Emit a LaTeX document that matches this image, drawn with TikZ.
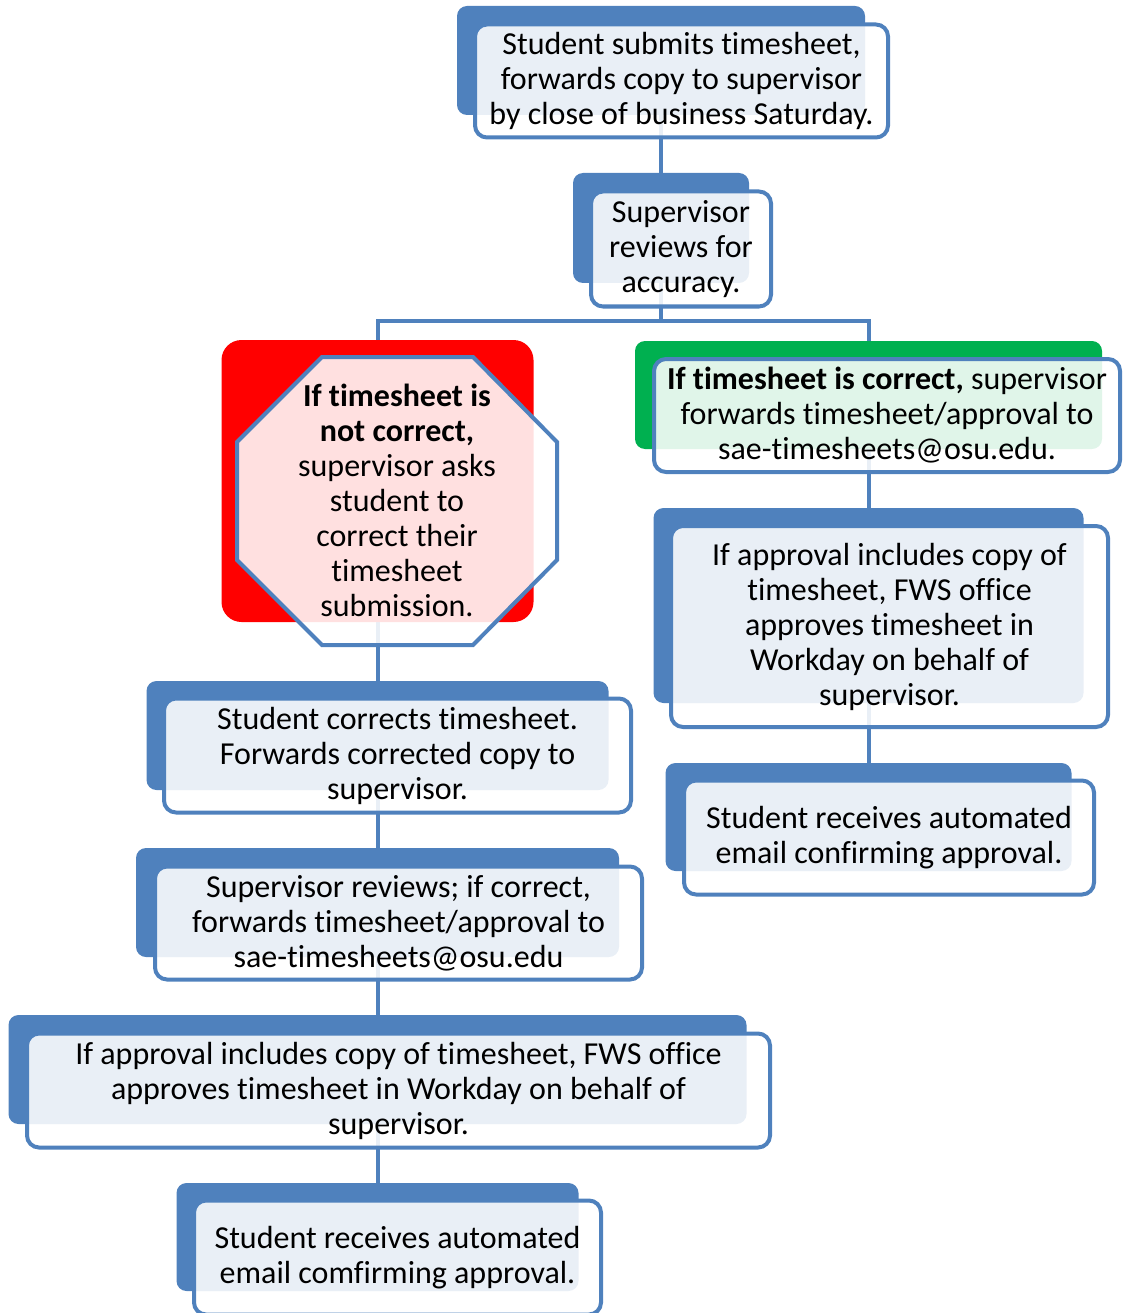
\documentclass[tikz,border=0pt]{standalone}
\usepackage{fontspec}
\setmainfont{Carlito}[Ligatures=CommonOff]
\usetikzlibrary{calc}
\definecolor{ablue}{HTML}{4F81BD}
\definecolor{agreen}{HTML}{00B050}
\definecolor{ared}{HTML}{FF0000}
\pgfdeclarelayer{conn}
\pgfdeclarelayer{back}
\pgfsetlayers{conn,back,main}
\begin{document}
\begin{tikzpicture}[x=1pt,y=-1pt,
  frontbox/.style={draw=ablue, line width=4pt, fill=white, fill opacity=0.88, text opacity=1,
    rounded corners=12pt, inner sep=0pt, align=center, font=\fontsize{32}{35}\selectfont},
  backbox/.style={fill=ablue, rounded corners=10pt, inner sep=0pt},
  link/.style={draw=ablue, line width=4pt}]
\useasboundingbox (0,0) rectangle (1122,1313);

% back shapes
\begin{pgfonlayer}{back}
\node[backbox, minimum width=408pt, minimum height=109pt] (b1back) at (661,60.5) {};
\node[backbox, minimum width=176pt, minimum height=110pt] (b2back) at (661,228) {};
\node[fill=ared, rounded corners=20pt, inner sep=0pt, minimum width=312pt, minimum height=282pt] (redback) at (377.5,481) {};
\node[fill=agreen, rounded corners=10pt, inner sep=0pt, minimum width=467pt, minimum height=108pt] (gback) at (868.5,395) {};
\node[backbox, minimum width=430pt, minimum height=195pt] (r1back) at (868.5,605.5) {};
\node[backbox, minimum width=406pt, minimum height=108pt] (r2back) at (868.5,817) {};
\node[backbox, minimum width=462pt, minimum height=109pt] (l1back) at (377.5,735.5) {};
\node[backbox, minimum width=483pt, minimum height=109pt] (l2back) at (377.5,902.5) {};
\node[backbox, minimum width=738pt, minimum height=109pt] (l3back) at (377.5,1069.5) {};
\node[backbox, minimum width=402pt, minimum height=108pt] (l4back) at (377.5,1237) {};
\end{pgfonlayer}

% front boxes
\node[frontbox, minimum width=413pt, minimum height=113pt] (b1) at (681.5,81)
  {Student submits timesheet,\\forwards copy to supervisor\\by close of business Saturday.};
\node[frontbox, minimum width=180pt, minimum height=115pt] (b2) at (681,249)
  {Supervisor\\reviews for\\accuracy.};
\filldraw[draw=ablue, line width=4pt, fill=white, fill opacity=0.88]
  (237,442) -- (322,357) -- (473,357) -- (557,442) -- (557,560) -- (473,645) -- (322,645) -- (237,560) -- cycle;
\node[align=center, inner sep=0pt, minimum width=316pt, minimum height=284pt, font=\fontsize{32}{35}\selectfont] (oct) at (397,500)
  {\textbf{If timesheet is}\\\textbf{not correct,}\\supervisor asks\\student to\\correct their\\timesheet\\submission.};
\node[frontbox, minimum width=466pt, minimum height=113pt] (g) at (887,415.5)
  {\textbf{If timesheet is correct,} supervisor\\forwards timesheet/approval to\\sae-timesheets@osu.edu.};
\node[frontbox, minimum width=437pt, minimum height=201pt] (r1) at (889.5,626.5)
  {If approval includes copy of\\timesheet, FWS office\\approves timesheet in\\Workday on behalf of\\supervisor.};
\node[frontbox, minimum width=410pt, minimum height=114pt] (r2) at (889,837.5)
  {Student receives automated\\email confirming approval.};
\node[frontbox, minimum width=467pt, minimum height=114pt] (l1) at (397.5,755.5)
  {Student corrects timesheet.\\Forwards corrected copy to\\supervisor.};
\node[frontbox, minimum width=487pt, minimum height=113pt] (l2) at (398.5,923)
  {Supervisor reviews; if correct,\\forwards timesheet/approval to\\sae-timesheets@osu.edu};
\node[frontbox, minimum width=743pt, minimum height=114pt] (l3) at (398.5,1090.5)
  {If approval includes copy of timesheet, FWS office\\approves timesheet in Workday on behalf of\\supervisor.};
\node[frontbox, minimum width=407pt, minimum height=114pt] (l4) at (397.5,1257.5)
  {Student receives automated\\email comfirming approval.};

% connectors
\begin{pgfonlayer}{conn}
\coordinate (split) at (661,321);
\draw[link] (b1back.center) -- (b2back.center);
\draw[link] (b2back.center) -- (split) -| (redback.center);
\draw[link] (split) -| (gback.center);
\draw[link] (redback.center) -- (l1back.center);
\draw[link] (l1back.center) -- (l2back.center);
\draw[link] (l2back.center) -- (l3back.center);
\draw[link] (l3back.center) -- (l4back.center);
\draw[link] (gback.center) -- (r1back.center);
\draw[link] (r1back.center) -- (r2back.center);
\end{pgfonlayer}
\end{tikzpicture}
\end{document}
